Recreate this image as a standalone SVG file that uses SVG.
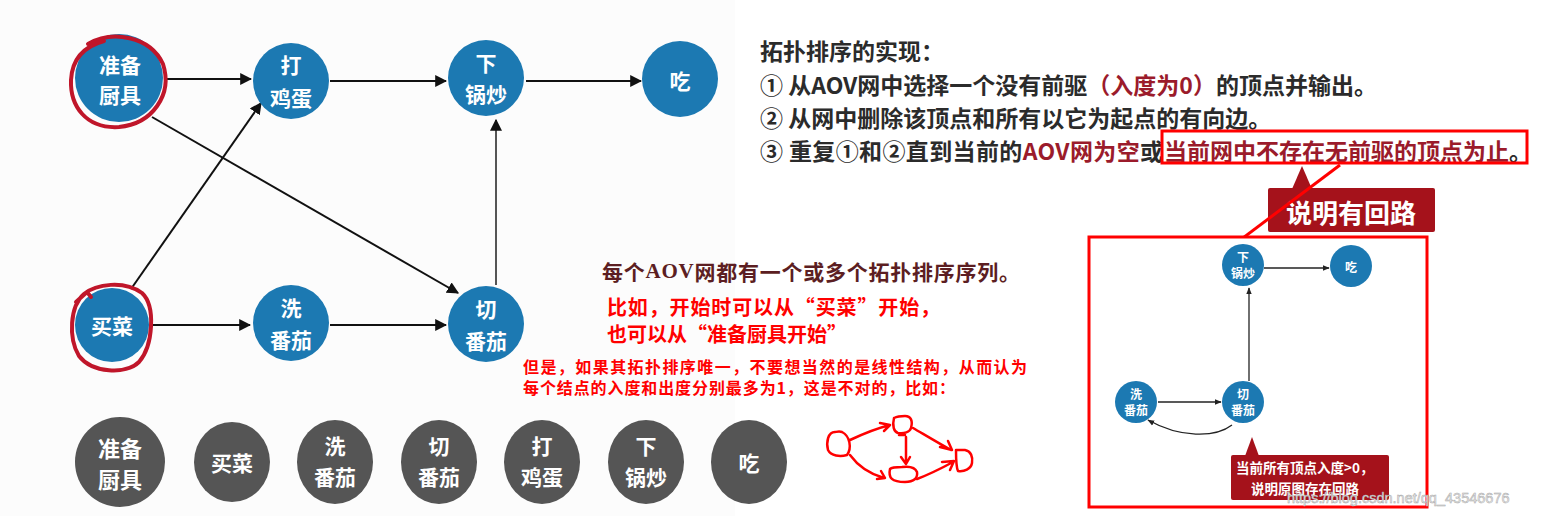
<svg xmlns="http://www.w3.org/2000/svg" width="1541" height="516" viewBox="0 0 1541 516">
<defs>
<style>
.cj{font-family:"Noto Sans CJK SC","Noto Sans",sans-serif}
.bn{fill:#1c79b2}
.gn{fill:#555555}
.nt{font-family:"Noto Sans CJK SC","Noto Sans",sans-serif;fill:#fff;font-weight:bold;text-anchor:middle;dominant-baseline:central}
.edge{stroke:#111;stroke-width:2;fill:none;marker-end:url(#ah2)}
.sedge{stroke:#222;stroke-width:1.3;fill:none;marker-end:url(#sah)}
.hand{stroke:#c0162a;stroke-width:4;fill:none;stroke-linecap:round;stroke-linejoin:round}
.sk{stroke:#ff0000;stroke-width:2.5;fill:none;stroke-linecap:round;stroke-linejoin:round}
.dr{fill:#9b1b2b}
.call{fill:#a5121b}
</style>
<marker id="ah2" viewBox="0 0 10 10" refX="9" refY="5" markerWidth="12" markerHeight="12" orient="auto" markerUnits="userSpaceOnUse">
<path d="M0,0 L10,5 L0,10 z" fill="#111"/>
</marker>
<marker id="sah" viewBox="0 0 10 10" refX="9" refY="5" markerWidth="7" markerHeight="7" orient="auto" markerUnits="userSpaceOnUse">
<path d="M0,1 L10,5 L0,9 z" fill="#222"/>
</marker>
<marker id="rah" viewBox="0 0 10 10" refX="9" refY="5" markerWidth="16" markerHeight="14" orient="auto" markerUnits="userSpaceOnUse">
<path d="M0,0 L10,5 L0,10 z" fill="#ff0000"/>
</marker>
</defs>
<rect x="0" y="0" width="1541" height="516" fill="#ffffff"/>
<rect x="0" y="0" width="735" height="516" fill="#fcfcfc"/>

<g id="connectors">
<line class="edge" x1="165" y1="79" x2="251" y2="79"/>
<line class="edge" x1="330" y1="81" x2="446" y2="81"/>
<line class="edge" x1="526" y1="81" x2="641" y2="81"/>
<line class="edge" x1="131" y1="289" x2="261" y2="103"/>
<line class="edge" x1="152" y1="117" x2="458" y2="293"/>
<line class="edge" x1="150" y1="325" x2="250" y2="325"/>
<line class="edge" x1="330" y1="325" x2="446" y2="325"/>
<line class="edge" style="stroke:#555" x1="496" y1="285" x2="496" y2="120"/>
</g>

<g id="n-zhunbei"><circle class="bn" cx="119" cy="78" r="44"/><text class="nt" x="120" y="64" font-size="21">准备</text><text class="nt" x="120" y="94" font-size="21">厨具</text>
<path class="hand" d="M88 44 C112 30 150 36 163 64 C173 95 152 124 119 127 C86 129 70 106 71 80 C72 60 82 47 104 41"/></g>
<g id="n-dajidan"><circle class="bn" cx="291" cy="81" r="38"/><text class="nt" x="291" y="64" font-size="21">打</text><text class="nt" x="291" y="97" font-size="21">鸡蛋</text></g>
<g id="n-xiaguochao"><circle class="bn" cx="486" cy="78" r="38"/><text class="nt" x="486" y="62" font-size="21">下</text><text class="nt" x="486" y="93" font-size="21">锅炒</text></g>
<g id="n-chi"><circle class="bn" cx="680" cy="79" r="38"/><text class="nt" x="680" y="80" font-size="21">吃</text></g>
<g id="n-maicai"><circle class="bn" cx="112" cy="325" r="37"/><text class="nt" x="112" y="325" font-size="21">买菜</text>
<path class="hand" d="M84 294 C96 284 124 280 142 293 C156 306 153 346 139 362 C126 375 92 373 79 356 C68 338 70 306 84 294 M76 302 L87 292 L91 297"/></g>
<g id="n-xifanqie"><circle class="bn" cx="291" cy="323" r="38"/><text class="nt" x="291" y="307" font-size="21">洗</text><text class="nt" x="291" y="339" font-size="21">番茄</text></g>
<g id="n-qiefanqie"><circle class="bn" cx="486" cy="324" r="38"/><text class="nt" x="486" y="308" font-size="21">切</text><text class="nt" x="486" y="340" font-size="21">番茄</text></g>

<g id="seq">
<ellipse class="gn" cx="120" cy="462" rx="45" ry="45"/><text class="nt" x="120" y="447" font-size="22">准备</text><text class="nt" x="120" y="478" font-size="22">厨具</text>
<ellipse class="gn" cx="232" cy="462" rx="38" ry="40"/><text class="nt" x="232" y="462" font-size="21">买菜</text>
<ellipse class="gn" cx="335" cy="462" rx="38" ry="42"/><text class="nt" x="335" y="445" font-size="21">洗</text><text class="nt" x="335" y="476" font-size="21">番茄</text>
<ellipse class="gn" cx="439" cy="462" rx="38" ry="42"/><text class="nt" x="439" y="445" font-size="21">切</text><text class="nt" x="439" y="476" font-size="21">番茄</text>
<ellipse class="gn" cx="542" cy="462" rx="38" ry="42"/><text class="nt" x="542" y="445" font-size="21">打</text><text class="nt" x="542" y="476" font-size="21">鸡蛋</text>
<ellipse class="gn" cx="646" cy="462" rx="38" ry="42"/><text class="nt" x="646" y="445" font-size="21">下</text><text class="nt" x="646" y="476" font-size="21">锅炒</text>
<ellipse class="gn" cx="749" cy="462" rx="38" ry="42"/><text class="nt" x="749" y="462" font-size="21">吃</text>
</g>

<g id="rules" class="cj" font-size="23" font-weight="bold" fill="#2b2b2b">
<text x="760" y="50" dominant-baseline="central">拓扑排序的实现：</text>
<text x="760" y="84" dominant-baseline="central">① 从AOV网中选择一个没有前驱<tspan class="dr">（入度为0）</tspan>的顶点并输出。</text>
<text x="760" y="117" dominant-baseline="central">② 从网中删除该顶点和所有以它为起点的有向边。</text>
<text x="760" y="150" dominant-baseline="central" textLength="403" lengthAdjust="spacing">③ 重复①和②直到当前的<tspan class="dr">AOV网为空</tspan>或</text>
<text class="dr" x="1164" y="150" dominant-baseline="central">当前网中不存在无前驱的顶点为止<tspan fill="#2b2b2b">。</tspan></text>
</g>
<rect x="1162" y="131" width="365" height="32" fill="none" stroke="#ff0000" stroke-width="3"/>

<g id="callout1">
<polygon class="call" points="1292,189 1302,166 1312,189"/>
<rect class="call" x="1268" y="188" width="167" height="44" rx="2"/>
<text class="cj" x="1351" y="211" font-size="26" font-weight="bold" fill="#fff" text-anchor="middle" dominant-baseline="central">说明有回路</text>
</g>
<line x1="1340" y1="165" x2="1207" y2="265" stroke="#ff0000" stroke-width="3" marker-end="url(#rah)"/>

<g id="middle" class="cj" font-weight="bold">
<text x="602" y="271" font-size="21" fill="#5c1e22" dominant-baseline="central" textLength="418">每个<tspan font-family="Liberation Serif, serif">AOV</tspan>网都有一个或多个拓扑排序序列。</text>
<text x="607" y="306" font-size="20" fill="#ff0000" dominant-baseline="central" textLength="333">比如，开始时可以从“买菜”开始，</text>
<text x="607" y="333" font-size="20" fill="#ff0000" dominant-baseline="central">也可以从“准备厨具开始”</text>
<text x="523" y="366" font-size="16" fill="#ff0000" dominant-baseline="central" textLength="504">但是，如果其拓扑排序唯一，不要想当然的是线性结构，从而认为</text>
<text x="523" y="387" font-size="16" fill="#ff0000" dominant-baseline="central" textLength="432">每个结点的入度和出度分别最多为1，这是不对的，比如：</text>
</g>

<g id="sketch">
<path class="sk" d="M835 432 C828 432 826 442 828 450 C831 456 840 457 847 455 C852 448 850 436 842 432 C839 431 836 432 835 432"/>
<path class="sk" d="M894 418 C892 426 894 432 898 433 C904 434 910 432 911 428 C913 421 911 416 905 416 C900 416 896 417 894 418 M899 435 L905 435"/>
<path class="sk" d="M890 469 C888 478 892 482 905 482 C914 482 918 478 917 472 C915 467 909 466 902 467 C896 467 891 468 890 469"/>
<path class="sk" d="M956 450 C956 460 956 467 958 471 C964 472 971 469 972 463 C973 457 971 451 965 450 C962 450 958 450 956 450"/>
<path class="sk" d="M850 440 C865 433 878 428 890 425 M880 423 L890 425 L884 431"/>
<path class="sk" d="M850 455 C858 466 870 474 884 478 M877 479 L885 478 L881 471"/>
<path class="sk" d="M913 428 C925 435 940 444 951 450 M940 447 L952 450 L948 441"/>
<path class="sk" d="M906 437 C906 446 906 455 906 463 M901 457 L906 464 L910 457"/>
<path class="sk" d="M917 479 C930 474 942 468 953 462 M942 462 L954 461 L950 470"/>
</g>

<g id="inset">
<rect x="1089" y="237" width="338" height="270" fill="#ffffff" stroke="#ff0000" stroke-width="3"/>
<g id="s-connectors">
<line class="sedge" x1="1264" y1="268" x2="1329" y2="268"/>
<line class="sedge" x1="1249" y1="381" x2="1249" y2="288"/>
<line class="sedge" x1="1158" y1="402" x2="1221" y2="402"/>
<path class="sedge" d="M1232 425 C1215 438 1180 438 1148 420"/>
</g>
<g id="s-xiaguochao"><circle class="bn" cx="1243" cy="265" r="21"/><text class="nt" x="1243" y="256" font-size="12">下</text><text class="nt" x="1243" y="272" font-size="12">锅炒</text></g>
<g id="s-chi"><circle class="bn" cx="1351" cy="266" r="21"/><text class="nt" x="1351" y="266" font-size="12">吃</text></g>
<g id="s-xifanqie"><circle class="bn" cx="1136" cy="402" r="21"/><text class="nt" x="1136" y="393" font-size="12">洗</text><text class="nt" x="1136" y="409" font-size="12">番茄</text></g>
<g id="s-qiefanqie"><circle class="bn" cx="1243" cy="402" r="21"/><text class="nt" x="1243" y="393" font-size="12">切</text><text class="nt" x="1243" y="409" font-size="12">番茄</text></g>
<g id="callout2">
<polygon class="call" points="1245,456 1252,437 1259,456"/>
<rect class="call" x="1231" y="455" width="158" height="45" rx="2"/>
<text class="cj" x="1236" y="467" font-size="13.5" font-weight="bold" fill="#fff" dominant-baseline="central">当前所有顶点入度&gt;0，</text>
<text class="cj" x="1251" y="488" font-size="13.5" font-weight="bold" fill="#fff" dominant-baseline="central">说明原图存在回路</text>
</g>
</g>
<text x="1287" y="503" font-family="Liberation Sans, Arial, sans-serif" font-size="14.5" fill="#eeeeee" stroke="#a8a8a8" stroke-width="0.5">https://blog.csdn.net/qq_43546676</text>
</svg>
